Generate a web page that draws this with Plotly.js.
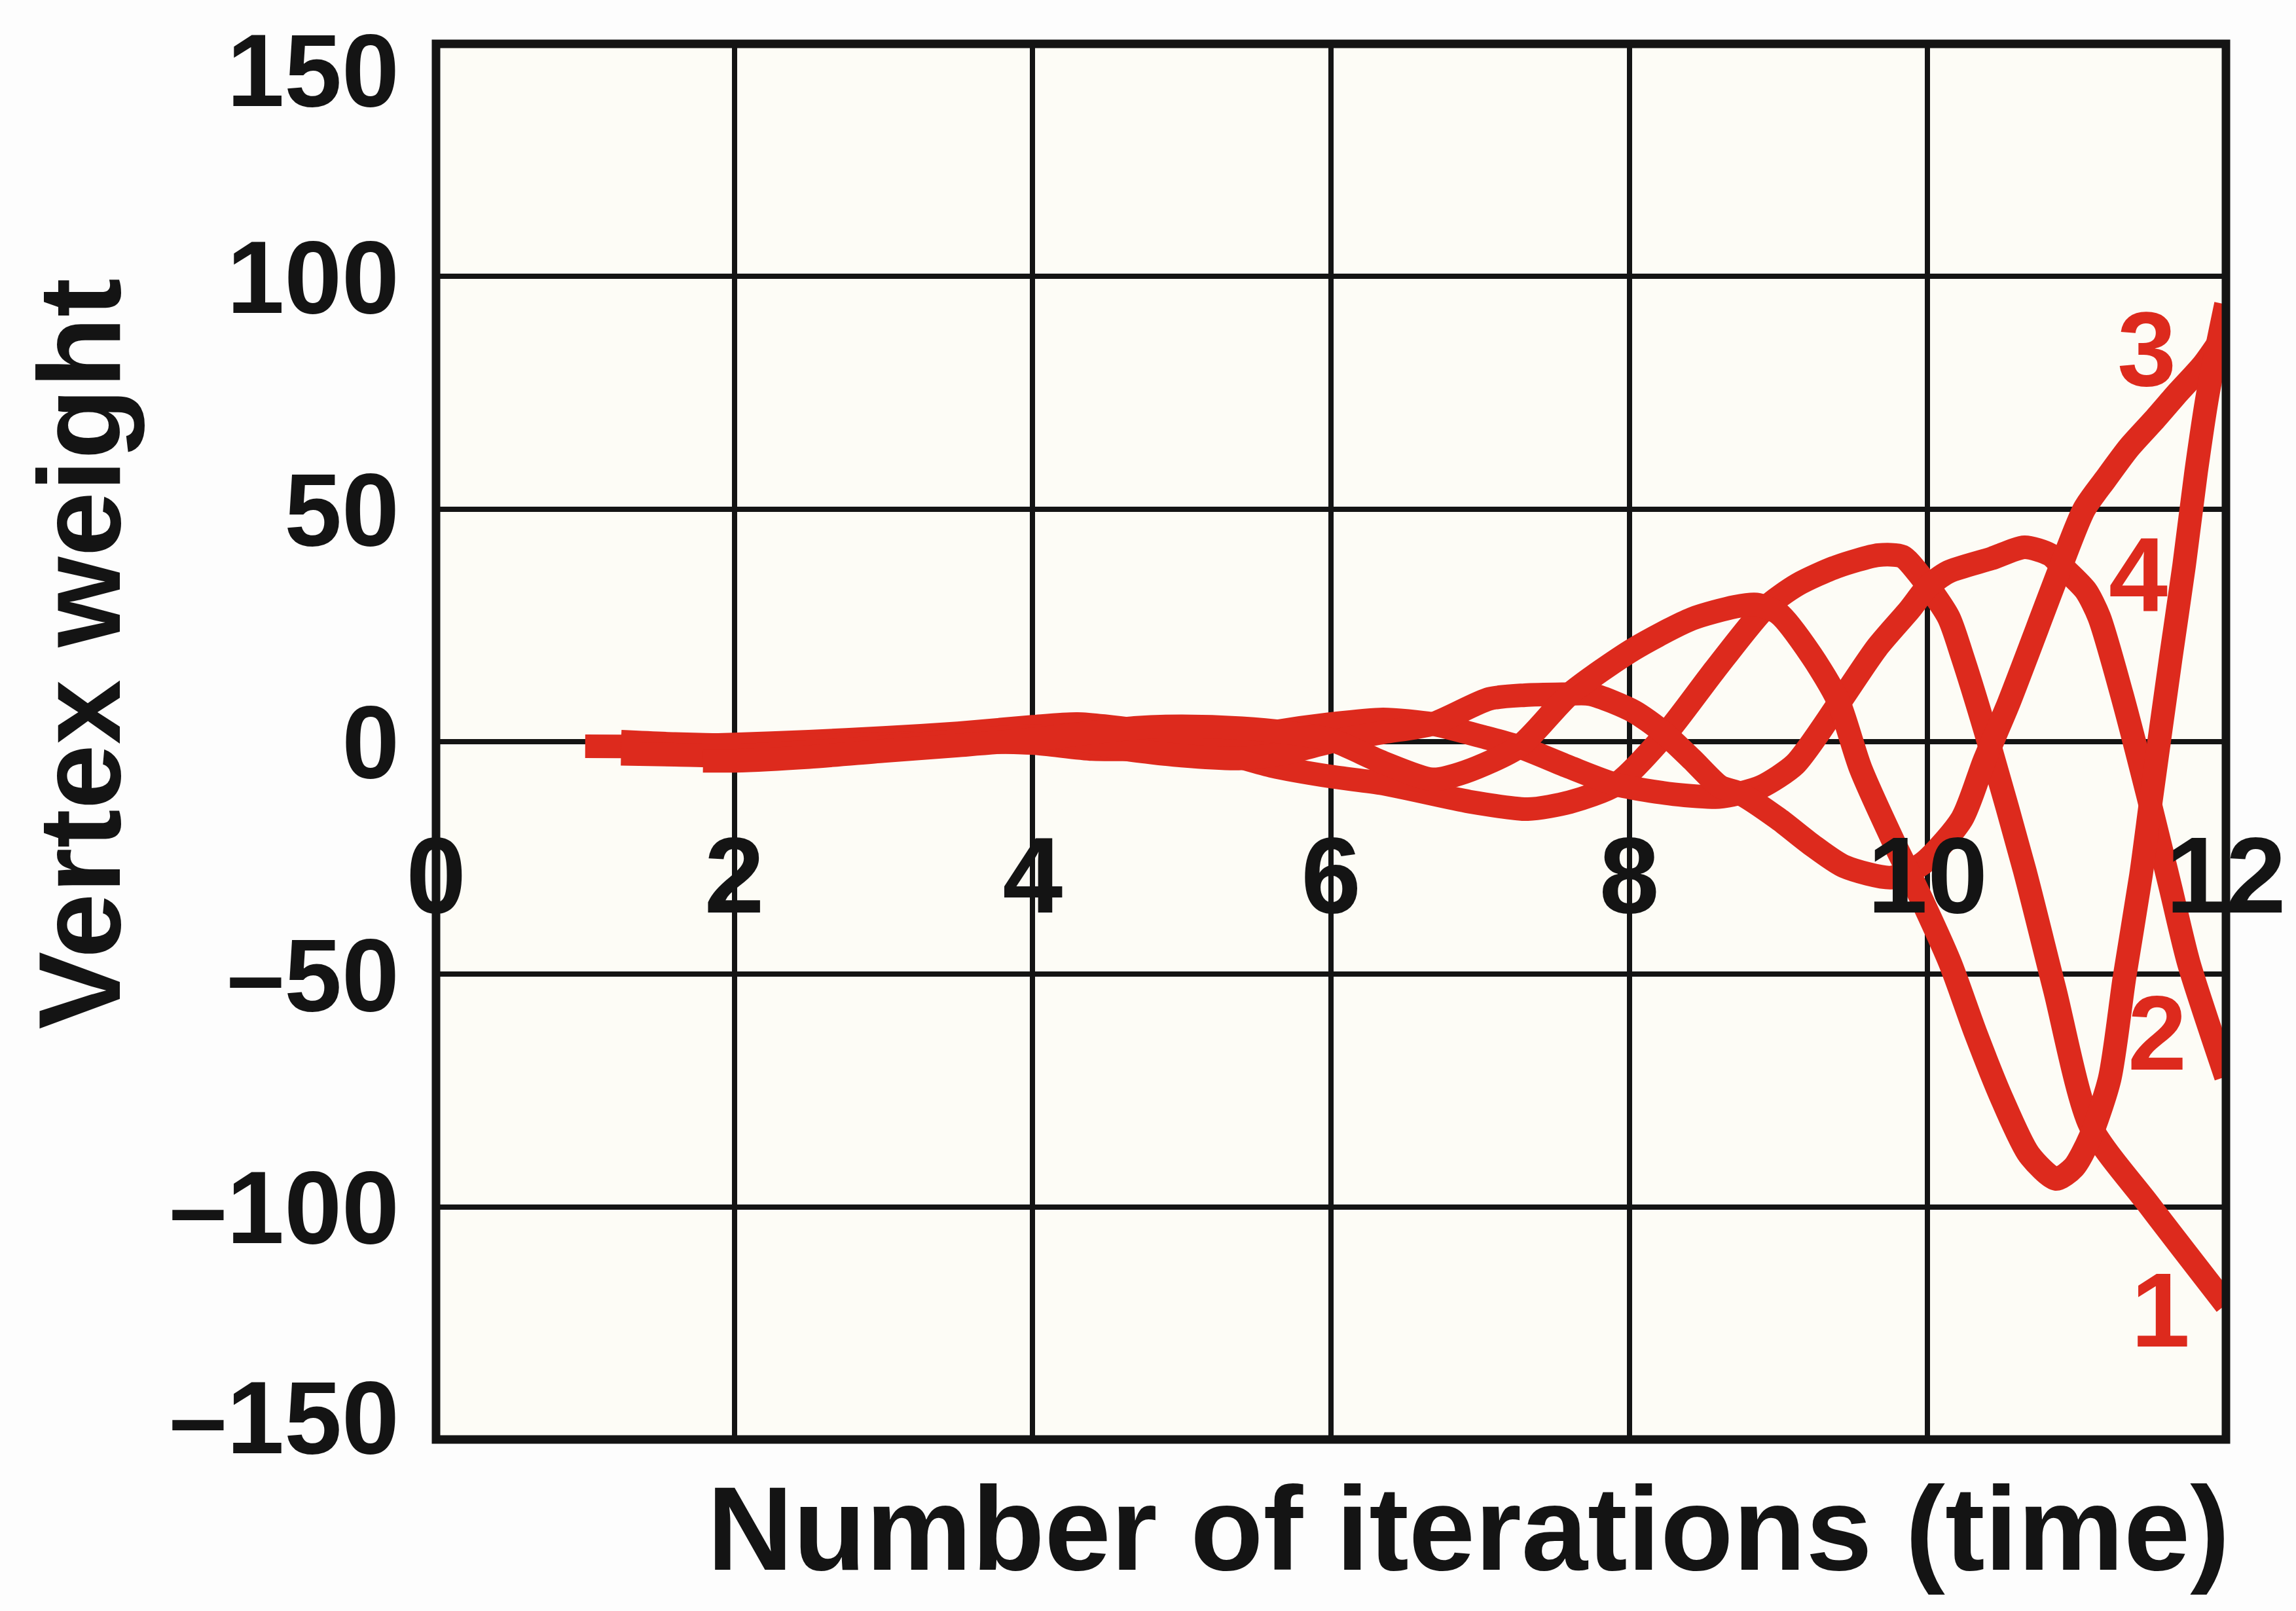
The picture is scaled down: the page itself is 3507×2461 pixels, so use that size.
<!DOCTYPE html>
<html>
<head>
<meta charset="utf-8">
<script src="https://cdn.plot.ly/plotly-3.0.1.min.js"></script>
<style>
html,body{margin:0;padding:0;background:#fdfdfd;}
#chart{width:3507px;height:2461px;}
</style>
</head>
<body>
<div id="chart"></div>
<script>
// ---- data ----
const iterationTicks = [0, 2, 4, 6, 8, 10, 12];
const weightTicks = [-100, -50, 0, 50, 100];
const weightTickLabels = ['–100', '–50', '0', '50', '100'];
const weightTopTick = [150];
const weightTopTickLabel = ['150'];
const weightBottomTick = [-150];
const weightBottomTickLabel = ['–150'];
const vertexNames = ['1', '2', '3', '4'];

const vertex1Time = [1.0,1.5,2.0,2.5,3.0,3.5,4.0,4.3,4.66,5.0,5.3,5.6,6.0,6.35,6.93,7.32,7.6,7.91,8.25,8.57,8.91,9.13,9.39,9.67,9.83,9.95,10.14,10.23,10.41,10.65,10.85,11.09,11.48,12.0];
const vertex1Weight = [-1.0,-1.0,-0.6,0.0,0.8,1.8,3.2,3.8,2.6,0.2,-2.5,-5.2,-7.5,-9.0,-12.9,-14.5,-13.0,-9.2,1.9,15.3,28.7,33.8,37.6,40.1,39.8,35.7,26.8,18.6,-0.2,-27.6,-53.0,-82.5,-99.4,-121.0];

const vertex2Time = [1.24,1.6,2.0,2.5,3.0,3.5,4.0,4.4,4.8,5.2,5.6,6.0,6.35,6.68,7.0,7.26,7.6,7.91,8.3,8.6,8.74,8.89,9.11,9.4,9.66,9.88,10.0,10.14,10.43,10.65,10.82,10.91,11.06,11.15,11.3,11.48,11.63,11.75,12.0];
const vertex2Weight = [0.0,-0.5,-0.8,-0.8,-0.5,0.0,-0.3,-1.6,-1.5,-0.5,2.0,3.8,4.8,3.8,1.2,-1.1,-5.5,-9.2,-11.3,-11.9,-11.1,-9.6,-4.9,8.0,20.2,28.4,33.3,36.5,39.4,41.8,40.2,37.4,32.5,26.8,10.4,-11.9,-31.6,-47.5,-72.0];

const vertex3Time = [1.24,1.6,2.0,2.5,3.0,3.5,4.0,4.3,4.6,5.0,5.4,5.7,6.0,6.35,6.68,7.06,7.3,7.55,7.74,8.03,8.22,8.42,8.61,8.74,9.0,9.22,9.44,9.76,9.97,10.23,10.38,10.54,10.89,11.05,11.19,11.35,11.52,11.68,11.85,12.0];
const vertex3Weight = [-2.6,-2.8,-3.0,-2.2,-1.2,0.2,1.2,0.5,-1.5,-3.0,-3.6,-2.4,0.0,2.0,3.8,9.2,10.0,10.2,10.2,6.5,2.2,-3.8,-9.7,-11.1,-16.6,-22.1,-26.8,-29.2,-26.1,-16.6,-4.1,8.0,37.4,50.0,56.3,63.2,69.2,75.1,81.1,88.0];

const vertex4Time = [1.79,2.0,2.5,3.0,3.5,4.0,4.4,4.7,5.0,5.4,5.7,6.0,6.35,6.68,6.9,7.26,7.6,8.03,8.42,8.71,8.85,9.0,9.22,9.4,9.55,9.77,9.93,10.15,10.32,10.5,10.68,10.86,10.98,11.09,11.22,11.32,11.43,11.5,11.63,11.72,11.8,11.88,12.0];
const vertex4Weight = [-4.1,-4.1,-3.3,-2.0,-0.8,0.5,2.0,3.0,3.3,2.9,2.0,0.4,-4.5,-8.1,-6.5,-1.1,10.2,19.9,26.4,29.0,29.5,27.6,18.6,8.8,-5.7,-21.4,-31.9,-47.5,-62.5,-76.9,-88.75,-94.0,-91.5,-85.0,-72.5,-50.6,-28.75,-12.0,18.0,38.0,58.0,75.0,94.0];

// ---- styling ----
const RED = '#dd2a1d';
const INK = '#141414';
const FONT = 'Liberation Sans, Arial, Helvetica, sans-serif';
const WEIGHT_RANGE = [-150, 150];

const seriesTimes = [vertex1Time, vertex2Time, vertex3Time, vertex4Time];
const seriesWeights = [vertex1Weight, vertex2Weight, vertex3Weight, vertex4Weight];

const traces = seriesTimes.map((t, i) => ({
  type: 'scatter',
  mode: 'lines',
  name: vertexNames[i],
  x: t,
  y: seriesWeights[i],
  line: {color: RED, width: 36, shape: 'spline', smoothing: 0.7},
  hoverinfo: 'x+y+name'
}));
// empty helper traces so the two extra tick-label axes exist
traces.push({type: 'scatter', mode: 'lines', x: [], y: [], yaxis: 'y2', showlegend: false, hoverinfo: 'skip'});
traces.push({type: 'scatter', mode: 'lines', x: [], y: [], yaxis: 'y3', showlegend: false, hoverinfo: 'skip'});

const labelStyle = {size: 162, color: RED, family: FONT, weight: 'bold'};
const tickFontY = {size: 158, color: INK, family: FONT, weight: 'bold'};
const annotations = [
  {x: 11.47, y: 84.5, xref: 'x', yref: 'y', text: vertexNames[2], showarrow: false, font: labelStyle},
  {x: 11.41, y: 36.0, xref: 'x', yref: 'y', text: vertexNames[3], showarrow: false, font: labelStyle},
  {x: 11.54, y: -62.5, xref: 'x', yref: 'y', text: vertexNames[1], showarrow: false, font: labelStyle},
  {x: 11.56, y: -122.0, xref: 'x', yref: 'y', text: vertexNames[0], showarrow: false, font: labelStyle},
  {x: -0.199, y: 0.563, xref: 'paper', yref: 'paper', text: 'Vertex weight', textangle: -90,
   showarrow: false, xanchor: 'center', yanchor: 'middle',
   font: {size: 178, color: INK, family: FONT, weight: 'bold'}},
  {x: 1.003, y: -0.064, xref: 'paper', yref: 'paper', text: 'Number of iterations (time)',
   showarrow: false, xanchor: 'right', yanchor: 'middle',
   font: {size: 182, color: INK, family: FONT, weight: 'bold'}}
];

function sideAxis(vals, text, shift) {
  return {
    overlaying: 'y', range: WEIGHT_RANGE, tickvals: vals, ticktext: text,
    showgrid: false, zeroline: false, showline: false, ticks: '',
    ticklabelstandoff: 55, ticklabelshift: shift, ticklabeloverflow: 'allow',
    tickfont: tickFontY, automargin: false, fixedrange: true
  };
}

const layout = {
  width: 3507,
  height: 2461,
  margin: {l: 666, r: 107, t: 67, b: 262, pad: 0},
  paper_bgcolor: '#fdfdfd',
  plot_bgcolor: '#fdfcf6',
  showlegend: false,
  xaxis: {
    range: [0, 12],
    tickvals: iterationTicks,
    ticktext: iterationTicks.map(String),
    anchor: 'free',
    position: 0.5,
    side: 'bottom',
    showgrid: true,
    gridcolor: INK,
    gridwidth: 8,
    zeroline: false,
    showline: false,
    ticks: '',
    ticklabelstandoff: 95,
    tickfont: {size: 165, color: INK, family: FONT, weight: 'bold'},
    automargin: false,
    fixedrange: true
  },
  yaxis: {
    range: WEIGHT_RANGE,
    tickvals: weightTicks,
    ticktext: weightTickLabels,
    showgrid: true,
    gridcolor: INK,
    gridwidth: 8,
    zeroline: false,
    showline: false,
    ticks: '',
    ticklabelstandoff: 55,
    ticklabeloverflow: 'allow',
    tickfont: tickFontY,
    automargin: false,
    fixedrange: true
  },
  yaxis2: sideAxis(weightTopTick, weightTopTickLabel, 40),
  yaxis3: sideAxis(weightBottomTick, weightBottomTickLabel, -34),
  shapes: [{
    type: 'rect', xref: 'paper', yref: 'paper', x0: 0, x1: 1, y0: 0, y1: 1,
    line: {color: INK, width: 13}, fillcolor: 'rgba(0,0,0,0)', layer: 'above'
  }],
  annotations: annotations
};

Plotly.newPlot('chart', traces, layout, {displayModeBar: false, staticPlot: true});
</script>
</body>
</html>
